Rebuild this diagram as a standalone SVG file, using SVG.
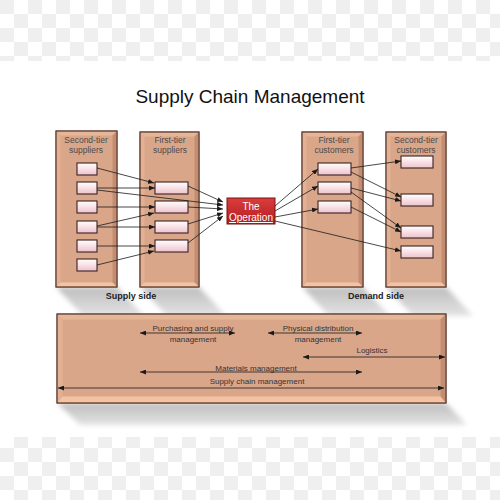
<svg xmlns="http://www.w3.org/2000/svg" width="500" height="500" viewBox="0 0 500 500">
<defs>
  <pattern id="chk" width="28" height="28" patternUnits="userSpaceOnUse">
    <rect width="28" height="28" fill="#ffffff"/>
    <rect width="14" height="14" fill="#efefef"/>
    <rect x="14" y="14" width="14" height="14" fill="#efefef"/>
  </pattern>
  <linearGradient id="boxg" x1="0" y1="0" x2="0" y2="1">
    <stop offset="0" stop-color="#ffffff"/>
    <stop offset="1" stop-color="#efc2cd"/>
  </linearGradient>
  <linearGradient id="redg" x1="0" y1="0" x2="0" y2="1">
    <stop offset="0" stop-color="#dc3c3c"/>
    <stop offset="1" stop-color="#b01e22"/>
  </linearGradient>
  <linearGradient id="shg" x1="0" y1="0" x2="0" y2="1">
    <stop offset="0" stop-color="#bdbdbd"/>
    <stop offset="1" stop-color="#e4e4e4"/>
  </linearGradient>
  <filter id="blur" x="-20%" y="-50%" width="140%" height="200%"><feGaussianBlur stdDeviation="2.5"/></filter>
  <marker id="ah" viewBox="0 0 6 5" refX="6" refY="2.5" markerWidth="6" markerHeight="5" markerUnits="userSpaceOnUse" orient="auto-start-reverse">
    <path d="M0,0L6,2.5L0,5z" fill="#1a1a1a"/>
  </marker>
  <style>
    .base{fill:#daa68a;stroke:#5e3d2e;stroke-width:1}
    .bt{fill:#e6b698}
    .bl{fill:#e2b092}
    .br{fill:#c38d72}
    .bb{fill:#f3c3a3}
    .sb{fill:url(#boxg);stroke:#3a2222;stroke-width:1.1}
    .hd{font-family:"Liberation Sans",Arial,sans-serif;font-size:8.5px;fill:#4a4a4a;text-anchor:middle}
    .lb{font-family:"Liberation Sans",Arial,sans-serif;font-size:8px;fill:#333;text-anchor:middle}
    .sd{font-family:"Liberation Sans",Arial,sans-serif;font-size:9px;font-weight:bold;fill:#222;text-anchor:middle}
    .cn line{stroke:#1a1a1a;stroke-width:0.8;marker-end:url(#ah)}
    .dbl line{stroke:#1a1a1a;stroke-width:0.8;marker-end:url(#ah);marker-start:url(#ah)}
    .sh{fill:url(#shg);filter:url(#blur)}
  </style>
</defs>

<rect width="500" height="500" fill="#ffffff"/>
<rect x="0" y="0" width="500" height="61" fill="url(#chk)"/>
<rect x="0" y="437" width="500" height="63" fill="url(#chk)"/>

<!-- shadows -->
<g id="shadows">
  <polygon class="sh" points="56,287 117,287 144,316 83,316"/>
  <polygon class="sh" points="140,287 199,287 226,316 167,316"/>
  <polygon class="sh" points="302,287 363,287 390,316 329,316"/>
  <polygon class="sh" points="386,287 446,287 473,316 413,316"/>
  <polygon class="sh" points="57,403 446,403 467,425 80,425"/>
</g>

<text x="250" y="103" font-family="Liberation Sans, Arial, sans-serif" font-size="19" fill="#111" text-anchor="middle">Supply Chain Management</text>

<g id="col-second-tier-suppliers">
  <rect class="base" x="56" y="131" width="61" height="156"/>
  <polygon class="bt" points="56.5,131.5 116.5,131.5 112.5,135.5 60.5,135.5"/>
  <polygon class="bl" points="56.5,131.5 60.5,135.5 60.5,282.5 56.5,286.5"/>
  <polygon class="br" points="116.5,131.5 116.5,286.5 112.5,282.5 112.5,135.5"/>
  <polygon class="bb" points="56.5,286.5 60.5,282.5 112.5,282.5 116.5,286.5"/>
  <rect x="56" y="131" width="61" height="156" fill="none" stroke="#5e3d2e"/>
  <text class="hd" x="86" y="143">Second-tier</text>
  <text class="hd" x="86" y="153">suppliers</text>
  <rect class="sb" x="77" y="163" width="20" height="12"/>
  <rect class="sb" x="77" y="182" width="20" height="12"/>
  <rect class="sb" x="77" y="201" width="20" height="12"/>
  <rect class="sb" x="77" y="221" width="20" height="12"/>
  <rect class="sb" x="77" y="240" width="20" height="12"/>
  <rect class="sb" x="77" y="259" width="20" height="12"/>
</g>

<g id="col-first-tier-suppliers">
  <rect class="base" x="140" y="132" width="59" height="155"/>
  <polygon class="bt" points="140.5,132.5 198.5,132.5 194.5,136.5 144.5,136.5"/>
  <polygon class="bl" points="140.5,132.5 144.5,136.5 144.5,282.5 140.5,286.5"/>
  <polygon class="br" points="198.5,132.5 198.5,286.5 194.5,282.5 194.5,136.5"/>
  <polygon class="bb" points="140.5,286.5 144.5,282.5 194.5,282.5 198.5,286.5"/>
  <rect x="140" y="132" width="59" height="155" fill="none" stroke="#5e3d2e"/>
  <text class="hd" x="170" y="143">First-tier</text>
  <text class="hd" x="170" y="153">suppliers</text>
  <rect class="sb" x="155" y="182" width="33" height="12"/>
  <rect class="sb" x="155" y="201" width="33" height="12"/>
  <rect class="sb" x="155" y="221" width="33" height="12"/>
  <rect class="sb" x="155" y="240" width="33" height="12"/>
</g>

<g id="col-first-tier-customers">
  <rect class="base" x="302" y="132" width="61" height="155"/>
  <polygon class="bt" points="302.5,132.5 362.5,132.5 358.5,136.5 306.5,136.5"/>
  <polygon class="bl" points="302.5,132.5 306.5,136.5 306.5,282.5 302.5,286.5"/>
  <polygon class="br" points="362.5,132.5 362.5,286.5 358.5,282.5 358.5,136.5"/>
  <polygon class="bb" points="302.5,286.5 306.5,282.5 358.5,282.5 362.5,286.5"/>
  <rect x="302" y="132" width="61" height="155" fill="none" stroke="#5e3d2e"/>
  <text class="hd" x="334" y="143">First-tier</text>
  <text class="hd" x="334" y="153">customers</text>
  <rect class="sb" x="318" y="163" width="33" height="12"/>
  <rect class="sb" x="318" y="182" width="33" height="12"/>
  <rect class="sb" x="318" y="201" width="33" height="12"/>
</g>

<g id="col-second-tier-customers">
  <rect class="base" x="386" y="132" width="60" height="155"/>
  <polygon class="bt" points="386.5,132.5 445.5,132.5 441.5,136.5 390.5,136.5"/>
  <polygon class="bl" points="386.5,132.5 390.5,136.5 390.5,282.5 386.5,286.5"/>
  <polygon class="br" points="445.5,132.5 445.5,286.5 441.5,282.5 441.5,136.5"/>
  <polygon class="bb" points="386.5,286.5 390.5,282.5 441.5,282.5 445.5,286.5"/>
  <rect x="386" y="132" width="60" height="155" fill="none" stroke="#5e3d2e"/>
  <text class="hd" x="416" y="143">Second-tier</text>
  <text class="hd" x="416" y="153">customers</text>
  <rect class="sb" x="401" y="156" width="32" height="12"/>
  <rect class="sb" x="401" y="194" width="32" height="12"/>
  <rect class="sb" x="401" y="226" width="32" height="12"/>
  <rect class="sb" x="401" y="246" width="32" height="12"/>
</g>

<g id="operation">
  <rect x="227" y="198" width="48" height="26" fill="url(#redg)" stroke="#7a1414" stroke-width="1"/>
  <text x="251" y="210" font-family="Liberation Sans, Arial, sans-serif" font-size="10" fill="#ffffff" text-anchor="middle">The</text>
  <text x="251" y="221" font-family="Liberation Sans, Arial, sans-serif" font-size="10" fill="#ffffff" text-anchor="middle" text-decoration="underline">Operation</text>
</g>

<text class="sd" x="131" y="299">Supply side</text>
<text class="sd" x="376" y="299">Demand side</text>

<g id="connectors" class="cn">
  <line x1="97" y1="168" x2="154" y2="183"/>
  <line x1="97" y1="188" x2="155" y2="188"/>
  <line x1="97" y1="190" x2="223" y2="205"/>
  <line x1="97" y1="207" x2="155" y2="207"/>
  <line x1="97" y1="226" x2="154" y2="213"/>
  <line x1="97" y1="227" x2="155" y2="227"/>
  <line x1="97" y1="246" x2="155" y2="246"/>
  <line x1="97" y1="265" x2="154" y2="251"/>
  <line x1="188" y1="186" x2="223" y2="202"/>
  <line x1="188" y1="207" x2="223" y2="209"/>
  <line x1="188" y1="224" x2="223" y2="213"/>
  <line x1="188" y1="243" x2="223" y2="216"/>
  <line x1="275" y1="206" x2="318" y2="169"/>
  <line x1="275" y1="211" x2="318" y2="186"/>
  <line x1="275" y1="217" x2="318" y2="209"/>
  <line x1="275" y1="221" x2="401" y2="251"/>
  <line x1="351" y1="168" x2="401" y2="161"/>
  <line x1="351" y1="172" x2="401" y2="197"/>
  <line x1="351" y1="188" x2="401" y2="201"/>
  <line x1="351" y1="192" x2="401" y2="228"/>
  <line x1="351" y1="207" x2="401" y2="232"/>
</g>

<g id="scope-panel">
  <rect class="base" x="57" y="314" width="389" height="89"/>
  <polygon class="bt" points="57.5,314.5 445.5,314.5 440.5,319.5 62.5,319.5"/>
  <polygon class="bl" points="57.5,314.5 62.5,319.5 62.5,396.5 57.5,402.5"/>
  <polygon class="br" points="445.5,314.5 445.5,402.5 440.5,396.5 440.5,319.5"/>
  <polygon class="bb" points="57.5,402.5 62.5,396.5 440.5,396.5 445.5,402.5"/>
  <rect x="57" y="314" width="389" height="89" fill="none" stroke="#5e3d2e"/>
  <text class="lb" x="193" y="331">Purchasing and supply</text>
  <text class="lb" x="193" y="342">management</text>
  <text class="lb" x="318" y="331">Physical distribution</text>
  <text class="lb" x="318" y="342">management</text>
  <text class="lb" x="372" y="353">Logistics</text>
  <text class="lb" x="256" y="371">Materials management</text>
  <text class="lb" x="257" y="384">Supply chain management</text>
  <g class="dbl">
    <line x1="140" y1="333" x2="235" y2="333"/>
    <line x1="268" y1="333" x2="362" y2="333"/>
    <line x1="303" y1="357" x2="445" y2="357"/>
    <line x1="140" y1="372" x2="362" y2="372"/>
    <line x1="58" y1="388" x2="444" y2="388"/>
  </g>
</g>
</svg>
